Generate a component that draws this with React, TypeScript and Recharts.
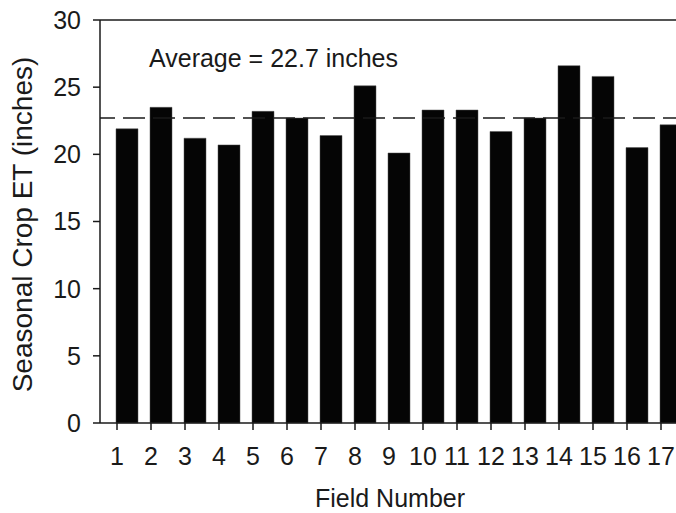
import { BarChart, Bar, XAxis, YAxis, ReferenceLine, Label } from "recharts";

const fields = ["1", "2", "3", "4", "5", "6", "7", "8", "9", "10", "11", "12", "13", "14", "15", "16", "17"];
const seasonalEt = [21.9, 23.5, 21.2, 20.7, 23.2, 22.7, 21.4, 25.1, 20.1, 23.3, 23.3, 21.7, 22.7, 26.6, 25.8, 20.5, 22.2];
const yTicks = [0, 5, 10, 15, 20, 25, 30];
const average = 22.7;

const font = "'Liberation Sans', Arial, sans-serif";
const ink = "#1a1a1a";

// ticks sit at the left edge of each bar, not the centre
function FieldTick(props: any) {
  const { x, y, payload } = props;
  const tx = x - 10;
  return (
    <g>
      <line x1={tx} y1={y} x2={tx} y2={y + 7} stroke={ink} strokeWidth={1.5} />
      <text x={tx} y={y + 33} textAnchor="middle" dominantBaseline="central" fontSize={25} fontFamily={font} fill={ink}>
        {payload.value}
      </text>
    </g>
  );
}

export default function App() {
  const data = fields.map((f, i) => ({ field: f, et: seasonalEt[i] }));

  return (
    <div style={{ position: "fixed", left: 0, top: 0, width: 676, height: 513, overflow: "hidden", background: "#fff" }}>
      <BarChart width={688} height={513} data={data} margin={{ top: 20, right: 0, bottom: 0, left: 0 }}>
        <XAxis
          dataKey="field"
          height={90}
          padding={{ left: 10, right: 0 }}
          tickSize={0}
          tickMargin={0}
          tickLine={false}
          interval={0}
          axisLine={{ stroke: ink, strokeWidth: 1.5 }}
          tick={<FieldTick />}
        >
          <Label value="Field Number" position="insideBottom" offset={6} dx={-4} fontSize={25} fontFamily={font} fill={ink} />
        </XAxis>
        <YAxis
          width={100}
          domain={[0, 30]}
          ticks={yTicks}
          tickSize={7}
          tickMargin={12}
          axisLine={{ stroke: ink, strokeWidth: 1.5 }}
          tickLine={{ stroke: ink, strokeWidth: 1.5 }}
          tick={{ fontSize: 25, fontFamily: font, fill: ink }}
        >
          <Label
            value="Seasonal Crop ET (inches)"
            angle={-90}
            position="insideLeft"
            offset={22}
            dy={3}
            textAnchor="middle"
            fontSize={28}
            fontFamily={font}
            fill={ink}
          />
        </YAxis>
        <ReferenceLine y={30} stroke={ink} strokeWidth={1.5}>
          <Label value="Average = 22.7 inches" position="insideTopLeft" offset={29} dx={20} fontSize={25} fontFamily={font} fill={ink} />
        </ReferenceLine>
        <Bar dataKey="et" fill="#050505" stroke="#555" strokeWidth={0.5} barSize={22} isAnimationActive={false} />
        <ReferenceLine y={average} stroke={ink} strokeWidth={1.5} strokeDasharray="22 8" strokeDashoffset={7} />
      </BarChart>
    </div>
  );
}
